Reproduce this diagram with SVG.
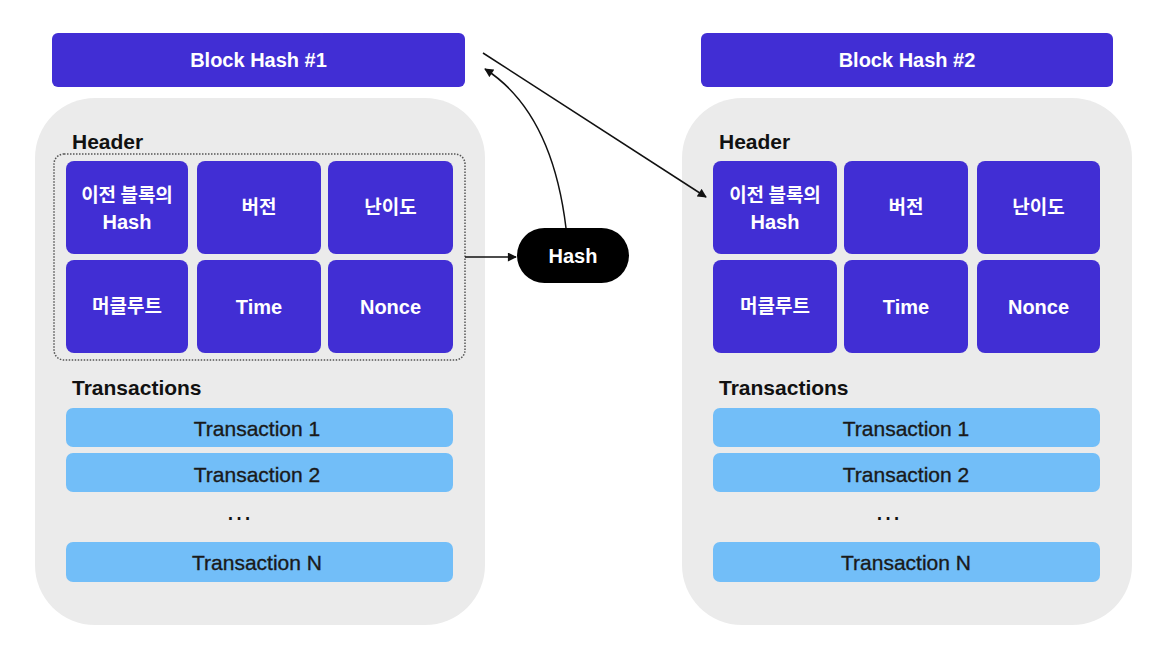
<svg xmlns="http://www.w3.org/2000/svg" width="1160" height="662" viewBox="0 0 1160 662">
<defs>
<style>
.bar{fill:#412ED4;}
.cell{fill:#412ED4;}
.panel{fill:#EBEBEB;}
.tx{fill:#72BEF8;}
.wt{fill:#ffffff;font-family:"Liberation Sans","Noto Sans CJK KR",sans-serif;font-weight:bold;font-size:20px;text-anchor:middle;dominant-baseline:central;}
.ko{fill:#ffffff;font-family:"Noto Sans CJK KR","Liberation Sans",sans-serif;font-weight:bold;font-size:19px;text-anchor:middle;dominant-baseline:central;}
.lbl{fill:#111111;font-family:"Liberation Sans",sans-serif;font-weight:bold;font-size:21px;}
.tt{fill:#1a1a1a;stroke:#1a1a1a;stroke-width:0.35;font-family:"Liberation Sans",sans-serif;font-size:21px;text-anchor:middle;dominant-baseline:central;}
.dots{fill:#111111;font-family:"Liberation Sans",sans-serif;font-size:27px;text-anchor:middle;}
.conn{fill:none;stroke:#111111;stroke-width:1.5;}
</style>
<marker id="ah" viewBox="0 0 10 10" refX="9" refY="5" markerWidth="10" markerHeight="9" markerUnits="userSpaceOnUse" orient="auto">
<path d="M0,0 L10,5 L0,10 z" fill="#111111"/>
</marker>
</defs>

<g id="block1">
<rect class="bar" x="52" y="33" width="413" height="54" rx="6"/>
<text class="wt" x="258.5" y="60">Block Hash #1</text>
<rect class="panel" x="35" y="98" width="450" height="527" rx="60"/>
<text class="lbl" x="72" y="149">Header</text>
<rect x="54" y="154" width="411" height="206" rx="10" fill="none" stroke="#555555" stroke-width="1.5" stroke-dasharray="1.5 1.5"/>
<g id="b1-prev"><rect class="cell" x="66" y="161" width="122" height="93" rx="8"/><text class="ko" x="127" y="193">이전 블록의</text><text class="wt" x="127" y="222">Hash</text></g>
<g id="b1-ver"><rect class="cell" x="197" y="161" width="124" height="93" rx="8"/><text class="ko" x="259" y="205">버전</text></g>
<g id="b1-diff"><rect class="cell" x="328" y="161" width="125" height="93" rx="8"/><text class="ko" x="390.5" y="205">난이도</text></g>
<g id="b1-merkle"><rect class="cell" x="66" y="260" width="122" height="93" rx="8"/><text class="ko" x="127" y="304">머클루트</text></g>
<g id="b1-time"><rect class="cell" x="197" y="260" width="124" height="93" rx="8"/><text class="wt" x="259" y="307">Time</text></g>
<g id="b1-nonce"><rect class="cell" x="328" y="260" width="125" height="93" rx="8"/><text class="wt" x="390.5" y="307">Nonce</text></g>
<text class="lbl" x="72" y="395">Transactions</text>
<g id="b1-tx1"><rect class="tx" x="66" y="408" width="387" height="39" rx="7"/><text class="tt" x="257" y="428">Transaction 1</text></g>
<g id="b1-tx2"><rect class="tx" x="66" y="453" width="387" height="39" rx="7"/><text class="tt" x="257" y="474">Transaction 2</text></g>
<text class="dots" x="239" y="520">…</text>
<g id="b1-txn"><rect class="tx" x="66" y="542" width="387" height="40" rx="7"/><text class="tt" x="257" y="562">Transaction N</text></g>
</g>

<g id="block2">
<rect class="bar" x="701" y="33" width="412" height="54" rx="6"/>
<text class="wt" x="907" y="60">Block Hash #2</text>
<rect class="panel" x="682" y="98" width="450" height="527" rx="60"/>
<text class="lbl" x="719" y="149">Header</text>
<g id="b2-prev"><rect class="cell" x="713" y="161" width="124" height="93" rx="8"/><text class="ko" x="775" y="193">이전 블록의</text><text class="wt" x="775" y="222">Hash</text></g>
<g id="b2-ver"><rect class="cell" x="844" y="161" width="124" height="93" rx="8"/><text class="ko" x="906" y="205">버전</text></g>
<g id="b2-diff"><rect class="cell" x="977" y="161" width="123" height="93" rx="8"/><text class="ko" x="1038.5" y="205">난이도</text></g>
<g id="b2-merkle"><rect class="cell" x="713" y="260" width="124" height="93" rx="8"/><text class="ko" x="775" y="304">머클루트</text></g>
<g id="b2-time"><rect class="cell" x="844" y="260" width="124" height="93" rx="8"/><text class="wt" x="906" y="307">Time</text></g>
<g id="b2-nonce"><rect class="cell" x="977" y="260" width="123" height="93" rx="8"/><text class="wt" x="1038.5" y="307">Nonce</text></g>
<text class="lbl" x="719" y="395">Transactions</text>
<g id="b2-tx1"><rect class="tx" x="713" y="408" width="387" height="39" rx="7"/><text class="tt" x="906" y="428">Transaction 1</text></g>
<g id="b2-tx2"><rect class="tx" x="713" y="453" width="387" height="39" rx="7"/><text class="tt" x="906" y="474">Transaction 2</text></g>
<text class="dots" x="888" y="520">…</text>
<g id="b2-txn"><rect class="tx" x="713" y="542" width="387" height="40" rx="7"/><text class="tt" x="906" y="562">Transaction N</text></g>
</g>

<g id="hash">
<rect x="517" y="228" width="112" height="55" rx="27.5" fill="#000000"/>
<text class="wt" x="573" y="256">Hash</text>
</g>

<g id="connectors">
<line class="conn" x1="465" y1="257" x2="516" y2="257" marker-end="url(#ah)"/>
<path class="conn" d="M566,228 Q552,112 485,69" marker-end="url(#ah)"/>
<line class="conn" x1="483" y1="53" x2="706" y2="197" marker-end="url(#ah)"/>
</g>
</svg>
